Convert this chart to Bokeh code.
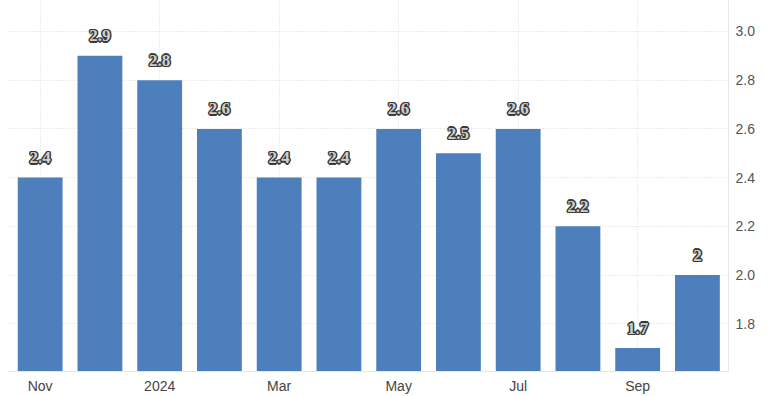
from bokeh.plotting import figure
from bokeh.models import ColumnDataSource, Range1d, FixedTicker
from bokeh.embed import file_html
from bokeh.resources import INLINE

months = ["Nov 2023", "Dec 2023", "Jan 2024", "Feb 2024", "Mar 2024", "Apr 2024",
          "May 2024", "Jun 2024", "Jul 2024", "Aug 2024", "Sep 2024", "Oct 2024"]
values = [2.4, 2.9, 2.8, 2.6, 2.4, 2.4, 2.6, 2.5, 2.6, 2.2, 1.7, 2.0]
tick_positions = [0, 2, 4, 6, 8, 10]
tick_labels = ["Nov", "2024", "Mar", "May", "Jul", "Sep"]
y_ticks = [1.8, 2.0, 2.2, 2.4, 2.6, 2.8, 3.0]

src = ColumnDataSource(dict(
    x=list(range(len(months))),
    top=values,
    label=[f"{v:g}" for v in values],
    month=months,
))

p = figure(width=768, height=396, output_backend="svg", toolbar_location=None,
           x_range=Range1d(-0.53, 11.52), y_range=Range1d(1.604, 3.127),
           x_axis_location="below", y_axis_location="right")
p.min_border_left = 8
p.min_border_right = 40
p.min_border_top = 0
p.min_border_bottom = 23
p.outline_line_color = None
p.background_fill_color = "white"

p.vbar(x="x", top="top", bottom=0, width=0.75, source=src,
       fill_color="#4d7fbc", line_color=None)

# outlined value labels: dark copies offset around, light text on top
offsets = [(-1, -1), (1, -1), (-1, 1), (1, 1), (0, -1.5), (0, 1.5), (-1.5, 0), (1.5, 0)]
for dx, dy in offsets:
    p.text(x="x", y="top", text="label", source=src, text_align="center",
           text_baseline="middle", x_offset=dx, y_offset=-20 + dy,
           text_font="Liberation Sans", text_font_size="17px",
           text_font_style="bold", text_color="#3a3a3a")
p.text(x="x", y="top", text="label", source=src, text_align="center",
       text_baseline="middle", y_offset=-20, text_font="Liberation Sans",
       text_font_size="17px", text_font_style="bold", text_color="#cfcfcf")

xa = p.xaxis[0]
xa.ticker = FixedTicker(ticks=tick_positions)
xa.major_label_overrides = {t: l for t, l in zip(tick_positions, tick_labels)}
xa.major_tick_line_color = None
xa.major_tick_out = 0
xa.major_tick_in = 0
xa.minor_tick_line_color = None
xa.minor_tick_out = 0
xa.axis_line_color = "#e6e6e6"
xa.major_label_text_font = "Liberation Sans"
xa.major_label_text_font_size = "14px"
xa.major_label_text_color = "#444444"
xa.major_label_standoff = 6

ya = p.yaxis[0]
ya.ticker = FixedTicker(ticks=y_ticks)
ya.major_tick_line_color = None
ya.major_tick_out = 0
ya.major_tick_in = 0
ya.minor_tick_line_color = None
ya.minor_tick_out = 0
ya.axis_line_color = "#e6e6e6"
ya.major_label_text_font = "Liberation Sans"
ya.major_label_text_font_size = "14px"
ya.major_label_text_color = "#555555"
ya.major_label_standoff = 7
ya.major_label_overrides = {t: f"{t:.1f}" for t in y_ticks}

p.xgrid.ticker = FixedTicker(ticks=tick_positions)
p.ygrid.ticker = FixedTicker(ticks=y_ticks)
for g in (p.xgrid, p.ygrid):
    g.grid_line_color = "#dadada"
    g.grid_line_dash = "1 2"
    g.grid_line_width = 1

open("out.html", "w").write(file_html(p, INLINE))
